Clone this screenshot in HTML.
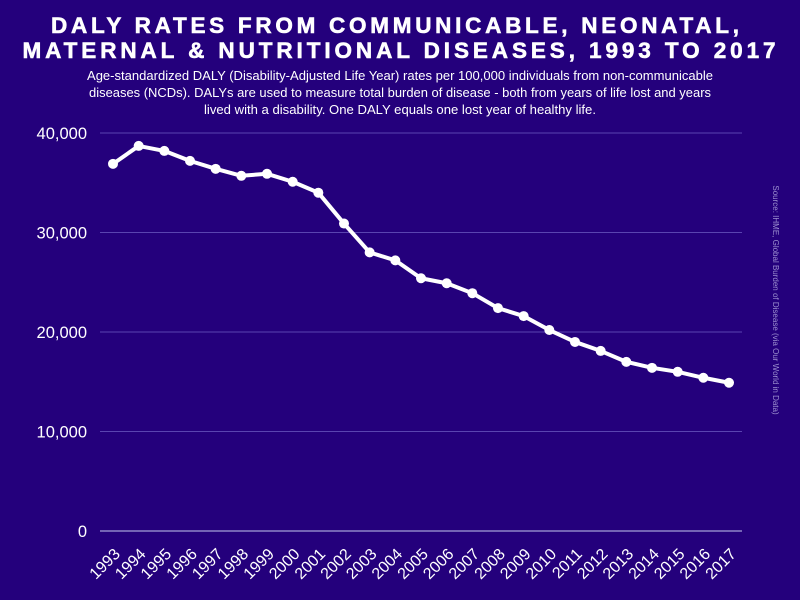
<!DOCTYPE html>
<html><head><meta charset="utf-8"><style>
html,body{margin:0;padding:0;background:#24007c;}
svg{display:block;font-family:"Liberation Sans",sans-serif;}
</style></head><body>
<svg id="chart" width="800" height="600">
<rect width="800" height="600" fill="#24007c"/>
<text x="396" y="33" text-anchor="middle" fill="#fff" font-weight="bold" font-size="22.5" letter-spacing="2" textLength="690" lengthAdjust="spacing" stroke="#fff" stroke-width="0.6">DALY RATES FROM COMMUNICABLE, NEONATAL,</text>
<text x="400" y="58" text-anchor="middle" fill="#fff" font-weight="bold" font-size="22.5" letter-spacing="2" textLength="755" lengthAdjust="spacing" stroke="#fff" stroke-width="0.6">MATERNAL &amp; NUTRITIONAL DISEASES, 1993 TO 2017</text>
<g fill="#fff" font-size="12.5" text-anchor="middle">
<text x="400" y="80" textLength="626" lengthAdjust="spacingAndGlyphs">Age-standardized DALY (Disability-Adjusted Life Year) rates per 100,000 individuals from non-communicable</text>
<text x="400" y="97" textLength="622" lengthAdjust="spacingAndGlyphs">diseases (NCDs). DALYs are used to measure total burden of disease - both from years of life lost and years</text>
<text x="400" y="114" textLength="392" lengthAdjust="spacingAndGlyphs">lived with a disability. One DALY equals one lost year of healthy life.</text>
</g>
<text transform="translate(773,300) rotate(90)" text-anchor="middle" fill="#9c8fd0" font-size="8">Source: IHME, Global Burden of Disease (via Our World in Data)</text>
<g id="grid"></g><g id="yaxis"></g><g id="xaxis"></g><g id="series"></g>
</svg>
<script>
const years=[1993,1994,1995,1996,1997,1998,1999,2000,2001,2002,2003,2004,2005,2006,2007,2008,2009,2010,2011,2012,2013,2014,2015,2016,2017];
const values=[36900,38700,38200,37200,36400,35700,35900,35100,34000,30900,28000,27200,25400,24900,23900,22400,21600,20200,19000,18100,17000,16400,16000,15400,14900];
const yTicks=[0,10000,20000,30000,40000];
const yTickLabels=["0","10,000","20,000","30,000","40,000"];
const NS="http://www.w3.org/2000/svg";
const x=i=>113+i*(729-113)/(years.length-1);
const y=v=>531-v*(531-133)/40000;
function mk(t,a,p){const e=document.createElementNS(NS,t);for(const k in a)e.setAttribute(k,a[k]);p.appendChild(e);return e;}
const grid=document.getElementById('grid'),ya=document.getElementById('yaxis'),xa=document.getElementById('xaxis'),se=document.getElementById('series');
yTicks.forEach((v,i)=>{
 const l=mk('line',{x1:100,x2:742,y1:y(v),y2:y(v),stroke:v===0?'#8f86c8':'#5a44b0','stroke-width':v===0?1.5:1},grid);
 
 
 const t=mk('text',{x:87,y:y(v)+6,'text-anchor':'end',fill:'#fff','font-size':16.5},ya);
 t.textContent=yTickLabels[i];
 
 
});
years.forEach((yr,i)=>{
 const t=mk('text',{transform:`translate(${x(i)+8},${555}) rotate(-45)`,'text-anchor':'end',fill:'#fff','font-size':16},xa);
 t.textContent=yr;
 
 
});
const pl=mk('polyline',{points:values.map((v,i)=>x(i)+','+y(v)).join(' '),fill:'none',stroke:'#fff','stroke-width':4,'stroke-linejoin':'round'},se);


values.forEach((v,i)=>{
 const c=mk('circle',{cx:x(i),cy:y(v),r:5,fill:'#fff'},se);
 
 
});
</script>
</body></html>
